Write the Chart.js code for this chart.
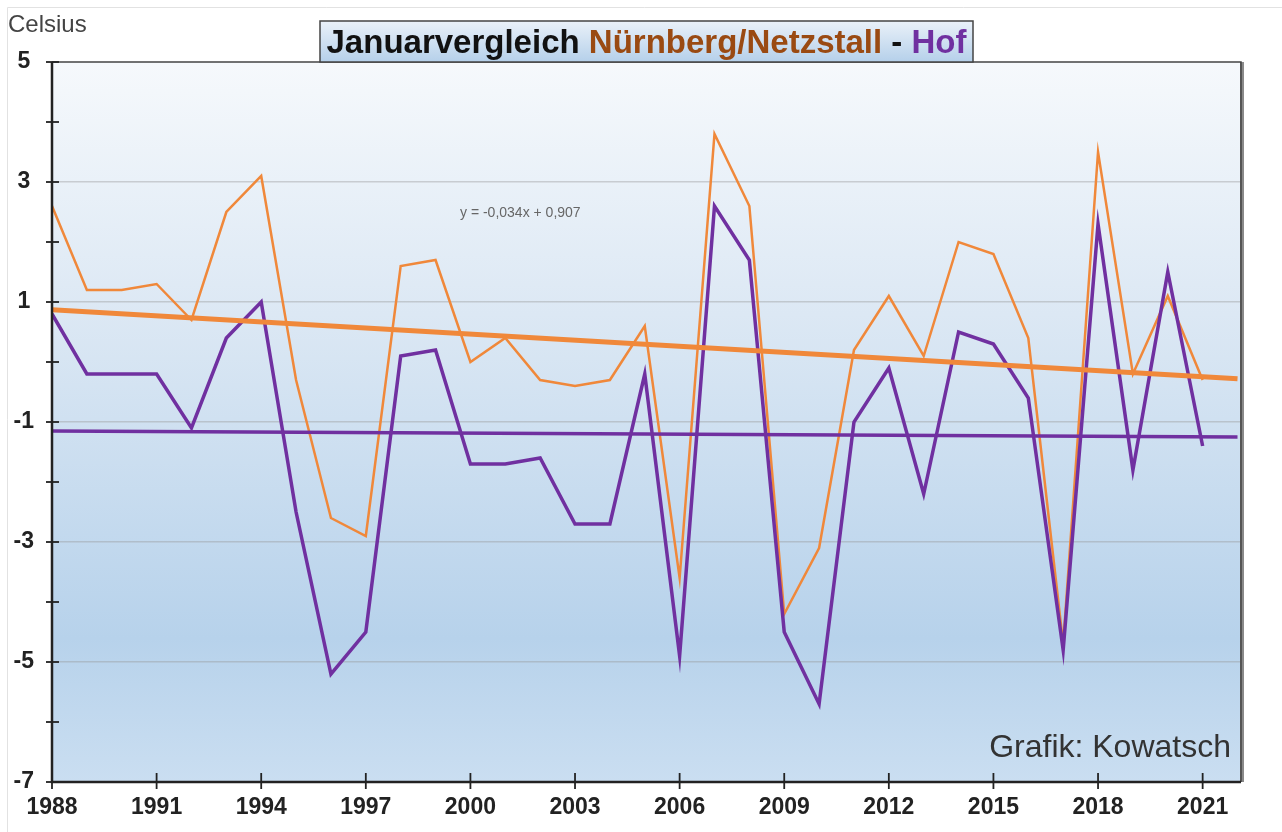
<!DOCTYPE html>
<html>
<head>
<meta charset="utf-8">
<script src="https://cdn.jsdelivr.net/npm/chart.js@4.4.1/dist/chart.umd.min.js"></script>
<style>
  html, body { margin: 0; padding: 0; background: #fff; overflow: hidden; }
  #mycanvas { display: block; }
</style>
</head>
<body>
<canvas id="mycanvas" width="1282" height="832"></canvas>
<script>
// Januar-Mitteltemperaturen (Celsius)
var years = [1988,1989,1990,1991,1992,1993,1994,1995,1996,1997,1998,1999,2000,2001,2002,2003,2004,
	2005,2006,2007,2008,2009,2010,2011,2012,2013,2014,2015,2016,2017,2018,2019,2020,2021];
var nuernberg = [2.6,1.2,1.2,1.3,0.7,2.5,3.1,-0.3,-2.6,-2.9,1.6,1.7,0.0,0.4,-0.3,-0.4,-0.3,
	0.6,-3.6,3.8,2.6,-4.2,-3.1,0.2,1.1,0.1,2.0,1.8,0.4,-4.7,3.5,-0.2,1.1,-0.3];
var hof = [0.8,-0.2,-0.2,-0.2,-1.1,0.4,1.0,-2.5,-5.2,-4.5,0.1,0.2,-1.7,-1.7,-1.6,-2.7,-2.7,
	-0.2,-4.9,2.6,1.7,-4.5,-5.7,-1.0,-0.1,-2.2,0.5,0.3,-0.6,-4.8,2.3,-1.8,1.5,-1.4];

// Trendlinien: Endpunkte
var trendYears = [1988, 2022];
var nuernbergTrend = [0.87, -0.28];
var hofTrend = [-1.15, -1.25];

var xTicks = [1988,1991,1994,1997,2000,2003,2006,2009,2012,2015,2018,2021];
var yMin = -7, yMax = 5;

var orange = '#f0883a';
var purple = '#7030a0';
var brown = '#9a4a12';
var FONT = 'Arial, "Liberation Sans", sans-serif';

function pts(xs, ys){
	var out = [];
	for (var i in xs) out.push({x: xs[i], y: ys[i]});
	return out;
}

var decor = {
	id: 'decor',
	beforeDraw: function(chart){
		var c = chart.ctx, a = chart.chartArea;
		c.save();
		var g = c.createLinearGradient(0, a.top, 0, a.bottom);
		g.addColorStop(0, '#f6f9fc');
		g.addColorStop(0.35, '#dce8f4');
		g.addColorStop(0.8, '#b7d2eb');
		g.addColorStop(1, '#cadef1');
		c.fillStyle = g;
		c.fillRect(a.left, a.top, a.right - a.left, a.bottom - a.top);
		// thin frame of the screenshot
		c.strokeStyle = '#e2e2e2';
		c.lineWidth = 1;
		c.beginPath(); c.moveTo(chart.width, 7.5); c.lineTo(7.5, 7.5); c.lineTo(7.5, chart.height); c.stroke();
		c.restore();
	},
	afterDraw: function(chart){
		var c = chart.ctx, a = chart.chartArea;
		var xs = chart.scales.x, ys = chart.scales.y;
		c.save();
		// frame
		c.strokeStyle = '#8a8a8a';
		c.lineWidth = 4;
		c.beginPath(); c.moveTo(a.right + 1, a.top); c.lineTo(a.right + 1, a.bottom); c.stroke();
		c.strokeStyle = '#444';
		c.lineWidth = 1.5;
		c.beginPath(); c.moveTo(a.left, a.top); c.lineTo(a.right, a.top); c.lineTo(a.right, a.bottom); c.stroke();
		c.strokeStyle = '#222';
		c.lineWidth = 2.5;
		c.beginPath(); c.moveTo(a.left, a.top); c.lineTo(a.left, a.bottom); c.lineTo(a.right, a.bottom); c.stroke();
		// tick marks
		c.lineWidth = 1.8;
		for (var v = yMin; v <= yMax; v++) {
			var py = ys.getPixelForValue(v);
			c.beginPath(); c.moveTo(a.left - 6, py); c.lineTo(a.left + 7, py); c.stroke();
		}
		for (var i in xTicks) {
			var px = xs.getPixelForValue(xTicks[i]);
			c.beginPath(); c.moveTo(px, a.bottom - 9); c.lineTo(px, a.bottom + 7); c.stroke();
		}

		// title box
		var bx = 320, by = 21, bw = 653, bh = a.top - by;
		var tg = c.createLinearGradient(0, by, 0, by + bh);
		tg.addColorStop(0, '#eaf1f9');
		tg.addColorStop(1, '#b5d0ea');
		c.fillStyle = tg;
		c.fillRect(bx, by, bw, bh);
		c.strokeStyle = '#444';
		c.lineWidth = 1.5;
		c.strokeRect(bx, by, bw, bh);

		var parts = [['Januarvergleich ', '#111'], ['Nürnberg/Netzstall', brown], [' - ', '#111'], ['Hof', purple]];
		c.font = 'bold 33px ' + FONT;
		var total = 0;
		for (var k in parts) total += c.measureText(parts[k][0]).width;
		var tx = bx + (bw - total) / 2;
		c.textBaseline = 'alphabetic';
		c.textAlign = 'left';
		for (var k in parts) {
			c.fillStyle = parts[k][1];
			c.fillText(parts[k][0], tx, 53);
			tx += c.measureText(parts[k][0]).width;
		}

		// other texts
		c.fillStyle = '#444';
		c.font = '24px ' + FONT;
		c.fillText('Celsius', 8, 32);

		c.fillStyle = '#666';
		c.font = '14px ' + FONT;
		c.fillText('y = -0,034x + 0,907', 460, 217);

		c.fillStyle = '#333';
		c.font = '32px ' + FONT;
		c.textAlign = 'right';
		c.fillText('Grafik: Kowatsch', 1231, 757);
		c.restore();
	}
};

var ctx = document.getElementById('mycanvas');

var chart = new Chart(ctx, {
	type: 'line',
	data: {
		datasets: [
			{ label: 'Nürnberg Trend', data: pts(trendYears, nuernbergTrend), borderColor: orange, borderWidth: 5 },
			{ label: 'Hof Trend', data: pts(trendYears, hofTrend), borderColor: purple, borderWidth: 3.5 },
			{ label: 'Hof', data: pts(years, hof), borderColor: purple, borderWidth: 3.5 },
			{ label: 'Nürnberg/Netzstall', data: pts(years, nuernberg), borderColor: orange, borderWidth: 2.5 }
		]
	},
	options: {
		responsive: false,
		animation: false,
		devicePixelRatio: 1,
		elements: { point: { radius: 0 }, line: { tension: 0, borderJoinStyle: 'miter' } },
		layout: { padding: { top: 62, right: 41, left: 0, bottom: 0 } },
		plugins: { legend: { display: false }, tooltip: { enabled: false }, title: { display: false } },
		scales: {
			x: {
				type: 'linear',
				min: 1988,
				max: 2022.1,
				afterBuildTicks: function(scale){
					scale.ticks = xTicks.map(function(v){ return {value: v}; });
				},
				afterFit: function(scale){ scale.height = 50; },
				grid: { display: false, drawTicks: false },
				border: { display: false },
				ticks: {
					autoSkip: false,
					maxRotation: 0,
					padding: 12,
					color: '#222',
					font: { family: FONT, size: 23, weight: 'bold' },
					callback: function(v){ return String(v); }
				}
			},
			y: {
				min: yMin,
				max: yMax,
				afterFit: function(scale){ scale.width = 52; },
				grid: {
					drawTicks: false,
					lineWidth: 1.5,
					color: function(c){
						var v = c.tick ? c.tick.value : 0;
						if (v > yMin && v < yMax && Math.abs(v % 2) === 1) return 'rgba(150,150,150,0.4)';
						return 'rgba(0,0,0,0)';
					}
				},
				border: { display: false },
				ticks: {
					stepSize: 1,
					crossAlign: 'center',
					padding: 18,
					color: '#222',
					font: { family: FONT, size: 23, weight: 'bold' },
					callback: function(v){ return Math.abs(v % 2) === 1 ? String(v) : ''; }
				}
			}
		}
	},
	plugins: [decor]
});
</script>
</body>
</html>
